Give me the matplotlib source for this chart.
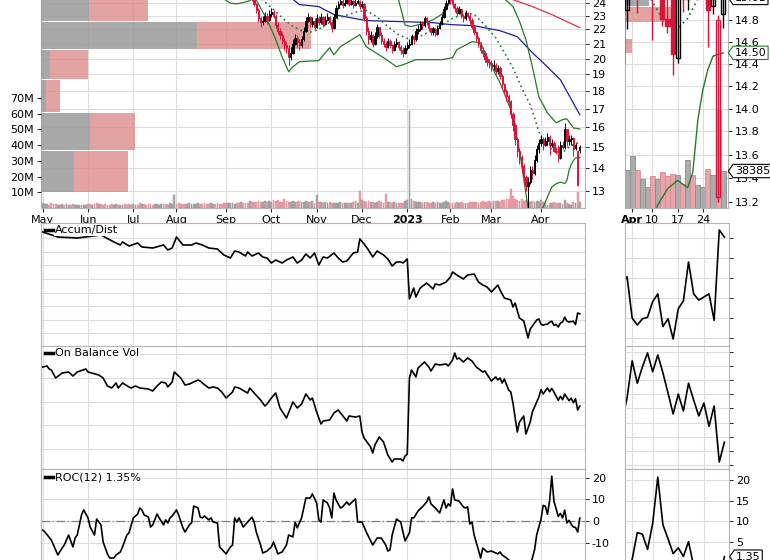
import matplotlib
matplotlib.use("Agg")
import matplotlib.pyplot as plt
from matplotlib.lines import Line2D
from matplotlib.path import Path
from matplotlib.ticker import NullLocator

# ---------------------------------------------------------------- data
# x = trading-day index, 0 = 2 May 2022 ... 249 = 28 Apr 2023
month_days = [0, 21, 42, 62, 85, 106, 127, 148, 169, 189, 208, 231]
month_labels = ["May", "Jun", "Jul", "Aug", "Sep", "Oct", "Nov", "Dec",
                "2023", "Feb", "Mar", "Apr"]
zoom_days = [231, 235, 240, 245]
zoom_labels = ["Apr", "10", "17", "24"]

# daily candles from day 96 on (earlier ones sit above the visible price range)
first_candle = 96
closes = [
    24.6, 24.3, 23.9, 23.4, 22.8, 22.5, 22.6, 23.0, 22.7, 23.1,
    23.3, 23.0, 22.3, 21.9, 21.6, 21.2, 20.9, 20.7, 20.1, 20.4,
    21.0, 21.4, 21.1, 20.9, 21.3, 21.9, 22.6, 22.9, 22.4, 22.6,
    22.2, 22.8, 22.5, 22.9, 22.4, 22.7, 22.9, 22.5, 22.1, 22.9,
    23.6, 23.9, 24.1, 23.8, 24.0, 24.2, 23.9, 24.1, 23.8, 24.0,
    24.1, 23.7, 23.9, 22.8, 21.9, 21.3, 21.6, 21.0, 21.5, 22.2,
    21.6, 21.2, 21.0, 20.8, 21.2, 20.9, 20.6, 21.0, 21.1, 20.8,
    20.6, 20.4, 20.7, 20.9, 21.0, 21.5, 21.3, 21.9, 22.0, 22.4,
    22.3, 22.8, 22.6, 22.1, 21.8, 22.0, 21.7, 22.1, 22.4, 22.9,
    23.5, 24.0, 24.4, 24.2, 23.9, 23.6, 23.2, 23.5, 23.0, 22.8,
    23.2, 23.0, 22.7, 22.2, 21.8, 21.4, 21.0, 20.6, 20.4, 20.0,
    19.8, 19.7, 19.5, 19.6, 19.2, 19.4, 18.9, 18.4, 18.0, 17.7,
    17.4, 16.7, 16.1, 15.4, 14.8, 14.5, 14.1, 13.6, 13.2, 13.4,
    13.9, 13.8, 14.4, 14.9, 15.2, 15.4, 15.1, 15.3, 15.5, 15.1,
    15.2, 14.81, 14.75, 14.49, 15.1, 15.0, 15.9, 15.3, 15.4, 15.45,
    14.9, 15.1, 14.8, 15.01,
]
highs = [
    24.9, 24.7, 24.4, 24.0, 23.6, 23.0, 23.0, 23.3, 23.2, 23.4,
    23.6, 23.4, 23.1, 22.5, 22.1, 21.8, 21.4, 21.1, 20.9, 20.8,
    21.3, 21.7, 21.6, 21.3, 21.5, 22.2, 22.9, 23.2, 23.0, 22.9,
    22.8, 23.1, 23.0, 23.2, 23.0, 23.0, 23.2, 23.0, 22.6, 23.1,
    23.8, 24.1, 24.4, 24.3, 24.3, 24.5, 24.3, 24.4, 24.2, 24.3,
    24.4, 24.2, 24.1, 24.0, 23.0, 22.2, 21.9, 21.7, 21.8, 22.4,
    22.2, 21.8, 21.4, 21.2, 21.4, 21.3, 21.0, 21.2, 21.4, 21.2,
    20.9, 20.8, 20.9, 21.1, 21.3, 21.7, 21.6, 22.1, 22.3, 22.6,
    22.6, 23.0, 22.9, 22.6, 22.2, 22.2, 22.1, 22.3, 22.6, 23.1,
    23.7, 24.2, 24.6, 24.5, 24.3, 24.0, 23.7, 23.7, 23.5, 23.1,
    23.4, 23.3, 23.1, 22.8, 22.3, 21.9, 21.5, 21.1, 20.8, 20.5,
    20.2, 20.0, 19.9, 19.9, 19.7, 19.6, 19.5, 19.0, 18.5, 18.1,
    17.8, 17.5, 16.8, 16.2, 15.5, 14.9, 14.6, 14.2, 13.7, 13.6,
    14.1, 14.1, 14.6, 15.1, 15.4, 15.6, 15.5, 15.5, 15.7, 15.6,
    15.4, 15.3, 15.0, 15.1, 15.3, 15.3, 16.2, 15.9, 15.6, 15.6,
    15.5, 15.2, 14.85, 15.1,
]
lows = [
    24.4, 24.1, 23.7, 23.2, 22.5, 22.2, 22.3, 22.5, 22.4, 22.6,
    22.9, 22.8, 22.1, 21.7, 21.3, 21.0, 20.6, 20.4, 19.6, 19.9,
    20.3, 20.9, 20.8, 20.6, 20.8, 21.2, 21.8, 22.5, 22.2, 22.2,
    22.0, 22.1, 22.3, 22.4, 22.2, 22.3, 22.6, 22.3, 21.8, 22.0,
    22.8, 23.5, 23.8, 23.6, 23.7, 23.9, 23.7, 23.8, 23.6, 23.7,
    23.9, 23.5, 23.6, 22.6, 21.6, 21.0, 21.1, 20.8, 20.9, 21.4,
    21.4, 21.0, 20.8, 20.5, 20.7, 20.7, 20.4, 20.5, 20.8, 20.6,
    20.3, 20.1, 20.3, 20.6, 20.7, 20.9, 21.0, 21.2, 21.7, 21.9,
    22.0, 22.2, 22.3, 21.9, 21.6, 21.6, 21.5, 21.6, 22.0, 22.3,
    22.8, 23.4, 23.9, 23.9, 23.6, 23.3, 23.0, 23.1, 22.8, 22.5,
    22.7, 22.8, 22.4, 22.0, 21.6, 21.2, 20.8, 20.4, 20.1, 19.8,
    19.5, 19.4, 19.2, 19.3, 19.0, 19.0, 18.7, 18.2, 17.8, 17.4,
    17.1, 16.5, 15.8, 15.1, 14.5, 14.2, 13.8, 13.3, 13.0, 12.3,
    13.3, 13.5, 13.7, 14.3, 14.72, 15.05, 14.87, 15.05, 15.1, 14.62,
    15.0, 14.75, 14.68, 14.3, 14.41, 14.88, 14.9, 15.05, 15.1, 15.1,
    14.55, 14.86, 13.2, 14.73,
]
gap_opens = {96: 24.8, 239: 15.0, 240: 14.45, 247: 14.93, 248: 13.24, 249: 14.86}

# daily volume, millions of shares
volume_m = [
    3.5, 2.5, 2.8, 2.2, 3.0, 2.6, 2.4, 2.0, 2.2, 2.5,
    2.1, 2.3, 1.9, 2.0, 2.4, 2.2, 1.8, 2.0, 1.7, 2.2,
    2.0, 2.5, 2.3, 2.1, 2.6, 3.5, 2.8, 2.4, 2.2, 2.5,
    2.0, 2.1, 2.3, 2.2, 2.6, 2.0, 1.9, 2.1, 2.4, 2.2,
    2.3, 2.0, 2.5, 2.2, 2.0, 3.0, 2.4, 2.6, 2.2, 2.5,
    2.3, 2.1, 2.8, 2.4, 2.2, 2.6, 2.3, 2.5, 2.1, 3.0,
    2.6, 8.0, 2.4, 3.0, 2.6, 2.8, 2.5, 2.7, 3.0, 2.4,
    2.6, 2.8, 3.1, 2.5, 2.4, 2.9, 2.6, 2.8, 3.4, 2.7,
    2.6, 3.0, 2.8, 2.5, 3.2, 2.9, 3.1, 3.5, 3.0, 2.8,
    3.3, 3.1, 3.6, 3.0, 3.2, 3.5, 4.5, 3.8, 4.0, 3.6,
    4.2, 3.8, 4.0, 4.4, 3.9, 4.6, 4.0, 5.2, 4.4, 4.8,
    4.0, 3.6, 5.5, 4.2, 3.8, 4.0, 4.6, 3.6, 3.9, 4.2,
    3.7, 4.0, 4.5, 4.0, 3.8, 4.2, 3.5, 8.0, 3.6, 3.9,
    3.4, 3.7, 3.2, 3.8, 3.5, 3.1, 3.4, 3.0, 3.6, 3.2,
    3.5, 3.1, 3.4, 3.3, 3.8, 4.2, 3.5, 11.0, 4.8, 4.5,
    4.0, 4.4, 3.6, 4.0, 3.5, 3.8, 4.2, 3.6, 3.4, 9.0,
    4.0, 3.6, 3.5, 3.8, 3.4, 3.2, 3.0, 3.5, 4.5, 5.0,
    62.0, 5.5, 4.5, 4.0, 3.6, 3.8, 3.5, 4.0, 3.6, 3.4,
    3.5, 3.8, 3.2, 3.6, 3.0, 3.4, 3.8, 4.5, 3.6, 3.2,
    3.4, 3.0, 3.6, 3.2, 3.8, 3.4, 3.2, 3.5, 3.8, 4.0,
    3.6, 4.0, 3.4, 3.8, 4.2, 3.9, 3.6, 4.2, 4.0, 4.5,
    4.2, 4.5, 3.8, 4.8, 5.0, 5.5, 6.0, 12.0, 7.5, 6.0,
    5.0, 4.5, 5.5, 4.2, 5.0, 4.6, 4.0, 4.4, 3.8, 4.2,
    3.9, 5.4, 3.9, 3.0, 2.2, 3.3, 3.0, 3.7, 3.3, 3.5,
    3.4, 2.5, 5.0, 3.4, 2.4, 2.2, 4.0, 3.4, 10.2, 3.838548,
]
# up/down days before the candles start
early_vol_dir = ("uuudddduuu" "duudduuudu" "uddudduddd" "ddduuduudd"
                 "dduudduddd" "dduuuudddu" "uuddddduuu" "uuuddddduu"
                 "dddddduuuu" "ddudddu")

# volume-by-price bands (price range, up / down volume in M)
vbp_low = [22.63, 20.66, 18.73, 16.82, 14.86, 12.96]
vbp_high = [24.6, 22.56, 20.59, 18.67, 16.77, 14.81]
vbp_up = [40, 130, 7.5, 4, 41, 27.5]
vbp_down = [49, 95, 32, 12, 37, 45]
rvbp_low = [14.93, 14.78, 14.50]
rvbp_high = [15.1, 14.92, 14.63]
rvbp_up = [24, 0, 0]
rvbp_down = [0, 51, 7]

# overlays read at sparse days
bb_up_days = [80, 84, 87, 90, 93, 96, 99, 105, 130, 150, 162, 165, 168, 171, 176,
              181, 185, 188, 190, 195, 205, 212, 216, 218, 221, 224, 227, 230,
              234, 238, 241, 243, 246, 249]
bb_up = [24.6, 24.3, 23.95, 23.9, 24.0, 24.15, 24.5, 25.5, 25.5, 26.0, 25.0, 24.2,
         22.3, 22.2, 22.4, 22.7, 23.1, 23.8, 24.5, 25.0, 25.0, 24.6, 24.0, 23.69,
         22.6, 21.27, 19.48, 17.66, 16.76, 16.23, 16.4, 16.44, 15.96, 15.91]
bb_mid_days = [100, 106, 112, 116, 120, 124, 128, 134, 140, 146, 150, 155, 160, 165,
               170, 175, 180, 185, 190, 196, 200, 205, 210, 214, 218, 222, 226, 228,
               230, 232, 235, 237, 240, 242, 244, 246, 249]
bb_mid = [24.5, 23.6, 22.7, 22.2, 21.9, 21.8, 22.0, 22.6, 23.0, 23.3, 23.4, 22.9,
          22.2, 21.6, 21.3, 21.5, 21.9, 22.3, 22.8, 23.2, 23.1, 22.3, 21.4, 20.4,
          19.4, 18.2, 17.2, 16.5, 15.76, 15.3, 14.97, 14.82, 14.72, 14.82, 15.0,
          15.12, 15.25]
bb_low_days = [96, 99, 104, 108, 111, 114, 116, 119, 128, 133, 135, 138, 147, 150,
               158, 164, 167, 173, 185, 190, 192, 199, 203, 206, 212, 217, 221, 225,
               228, 232, 236, 238, 240, 242, 243, 244, 245, 246, 247, 249]
bb_low = [24.6, 24.2, 22.7, 21.3, 20.1, 19.16, 19.48, 19.8, 19.87, 20.72, 20.25,
          20.79, 21.62, 20.79, 20.06, 19.48, 19.6, 19.93, 19.93, 20.06, 20.59, 21.13,
          21.06, 20.06, 18.49, 16.93, 14.86, 12.3, 11.8, 12.34, 13.17, 13.31, 13.38,
          13.32, 13.45, 13.9, 14.17, 14.35, 14.47, 14.50]
ma50_days = [115, 119, 128, 135, 150, 166, 181, 189, 200, 212, 220, 227, 232, 240, 249]
ma50 = [24.4, 23.84, 23.69, 23.08, 22.63, 22.56, 22.48, 22.34, 22.26, 21.9, 21.48,
        20.39, 19.73, 18.67, 16.66]
ma200_days = [210, 218, 227, 236, 249]
ma200 = [24.8, 24.23, 23.69, 23.08, 22.12]

adl_days = [0, 7, 16, 27, 33, 36, 37, 40, 44, 46, 51, 56, 58, 60, 62, 65, 69, 71, 74,
            77, 81, 84, 87, 89, 91, 94, 95, 97, 100, 102, 104, 106, 108, 111, 113,
            116, 118, 120, 122, 124, 126, 128, 130, 132, 135, 137, 139, 141, 144,
            146, 147, 149, 151, 153, 155, 158, 160, 162, 164, 166, 167, 169, 170,
            172, 173, 175, 178, 181, 182, 184, 187, 189, 190, 192, 195, 197, 200,
            202, 204, 206, 208, 211, 212, 214, 217, 218, 219, 221, 223, 225, 226,
            227, 229, 230, 231, 232, 233, 234, 235, 236, 237, 238, 239, 240, 241,
            242, 243, 244, 245, 246, 247, 248, 249]
adl = [115, 110, 109, 112, 105, 102, 105, 101, 104, 100, 99, 102, 97, 99, 110, 102,
       102, 104, 102, 99, 98, 92, 89, 96, 95, 91, 95, 91, 94, 90, 89, 84, 87, 84, 87,
       90, 84, 87, 93, 89, 94, 82, 90, 89, 94, 89, 85, 86, 94, 95, 108, 103, 97, 90,
       96, 92, 88, 81, 85, 85, 84, 88, 48, 59, 50, 59, 64, 58, 63, 62, 65, 70, 75, 72,
       68, 72, 73, 65, 62, 60, 55, 62, 57, 49, 47, 40, 44, 29, 26, 9, 18, 21, 27,
       28.0, 22.7, 21.8, 22.6, 22.8, 24.8, 25.8, 21.6, 22.6, 20.0, 23.9, 24.9, 29.9,
       25.8, 25.0, 25.4, 25.8, 22.4, 34.0, 33.1]

obv_days = [0, 2, 3, 4, 6, 9, 12, 14, 16, 20, 21, 26, 28, 30, 32, 34, 35, 37, 40, 41,
            43, 45, 49, 51, 53, 55, 57, 58, 60, 61, 64, 66, 68, 72, 73, 74, 77, 79,
            81, 83, 85, 88, 89, 91, 95, 96, 98, 101, 103, 104, 106, 108, 110, 113,
            116, 118, 120, 122, 124, 125, 127, 129, 130, 133, 135, 137, 141, 142,
            145, 147, 148, 149, 152, 153, 154, 156, 158, 160, 162, 163, 166, 167,
            168, 169, 170, 171, 173, 174, 177, 179, 180, 182, 184, 187, 188, 190,
            191, 192, 193, 195, 197, 199, 201, 204, 205, 208, 210, 211, 212, 213,
            214, 216, 217, 218, 220, 221, 223, 224, 226, 227, 229, 230, 231, 232,
            233, 234, 235, 236, 237, 238, 239, 240, 241, 242, 243, 244, 245, 246,
            247, 248, 249]
obv = [102, 103, 100, 99, 91, 96, 97, 93, 97, 100, 97, 94, 91, 83, 81, 86, 81, 86,
       82, 81, 83, 81, 80, 78, 83, 87, 86, 82, 87, 97, 91, 84, 85, 89, 88, 86, 81,
       82, 81, 77, 71, 77, 82, 81, 76, 81, 76, 69, 63, 65, 71, 76, 61, 51, 67, 61,
       65, 75, 69, 71, 57, 45, 48, 49, 56, 59, 48, 53, 52, 53, 37, 31, 22, 16, 24,
       32, 27, 14, 7, 10, 10, 8, 13, 15, 91, 99, 92, 101, 107, 102, 98, 105, 104,
       105, 103, 109, 116, 110, 111, 107, 111, 108, 102, 97, 98, 88, 92, 89, 91, 86,
       90, 79, 77, 66, 37, 47, 53, 35, 47, 57, 67, 71.9, 79.4, 74.9, 78.2, 81.0,
       77.2, 80.6, 77.0, 72.9, 68.7, 72.7, 69.3, 74.9, 71.5, 68.3, 70.9, 66.2, 70.3,
       59.0, 63.0]

roc_days = [0, 1, 4, 7, 9, 10, 12, 14, 15, 16, 18, 19, 21, 22, 24, 25, 27, 28, 30,
            31, 33, 34, 36, 37, 39, 40, 42, 44, 45, 46, 47, 49, 50, 51, 53, 54, 56,
            57, 58, 59, 60, 62, 63, 65, 66, 68, 69, 70, 72, 73, 74, 75, 77, 78, 79,
            81, 82, 85, 87, 88, 89, 90, 91, 93, 95, 97, 98, 99, 101, 102, 104, 106,
            107, 109, 111, 113, 114, 116, 117, 118, 120, 122, 124, 125, 127, 128,
            129, 130, 132, 133, 134, 135, 136, 138, 139, 141, 142, 145, 146, 148,
            150, 153, 155, 157, 159, 160, 161, 162, 164, 166, 167, 168, 170, 171,
            172, 174, 176, 178, 179, 180, 182, 184, 186, 187, 188, 189, 190, 191,
            193, 195, 196, 197, 198, 199, 200, 202, 203, 204, 206, 208, 211, 212,
            213, 215, 217, 219, 221, 223, 225, 227, 228, 229, 230, 231, 232, 233,
            234, 235, 236, 237, 238, 239, 240, 241, 242, 243, 244, 245, 246, 247,
            248, 249]
roc = [-4.2, -5.1, -8.8, -15.7, -12.5, -11.1, -6.5, -12.0, -7.9, -6.5, 2.8, 5.1, 1.4,
       -2.8, -6.5, 0.9, -1.8, -9.7, -15.2, -17.1, -17.1, -15.7, -14.3, -12.0, -6.5,
       -5.5, 1.4, 3.2, 6.0, 5.1, 2.8, 1.8, -2.8, -1.8, 3.2, 1.4, -1.8, 0.5, -0.9,
       1.4, 2.3, 5.1, 2.8, -3.2, -5.1, -1.8, -0.9, 6.9, 6.0, 1.8, 1.4, 2.3, 0.5,
       1.4, -0.5, -0.9, -12.0, -15.2, -12.0, -11.1, 1.4, -0.5, 1.4, -2.8, -0.5, 1.8,
       -0.5, -5.1, -11.1, -14.8, -13.9, -12.0, -9.7, -15.2, -14.3, -11.1, -6.5,
       -7.4, -0.5, -3.2, 1.4, 10.6, 10.6, 12.5, 8.3, 0.5, -0.5, 9.7, 8.3, 6.0, 1.4,
       12.9, 9.7, 6.0, 6.5, 8.8, 7.4, 10.2, -0.5, -0.5, -5.1, -11.1, -7.9, -7.9,
       -11.1, -13.9, -13.4, -6.5, 0.9, -0.5, -5.1, -9.2, -5.5, 1.4, 1.4, 4.6, 6.5,
       8.8, 11.1, 7.9, 6.0, 3.7, 9.7, 6.0, 7.9, 6.9, 14.8, 9.7, 9.2, 6.5, 6.0, 6.5,
       -1.4, -0.5, -6.5, -13.4, -17.1, -12.5, -14.3, -13.9, -15.2, -14.3, -15.7,
       -17.1, -18.9, -23.0, -28.0, -30.0, -26.0, -17.1, -13.4, -6.5, -2.8, 0.7, 7.2,
       6.8, 3.1, 9.4, 20.7, 9.1, 5.7, 2.1, 3.5, 1.4, 5.0, -0.9, 0.3, -1.5, -2.8,
       -3.0, -5.1, 1.35]

# ---------------------------------------------------------------- style
W, H = 770, 560
GRID = "#dddddd"
SPINE = "#b4b4b4"
RED = "#d8143a"
VOL_UP, VOL_DN = "#acacac", "#e9a3aa"
VBP_UP, VBP_DN = "#9a9a9a", "#dc8c8c"
GREEN = "#267a26"
FS = 8

plt.rcParams["font.family"] = ["DejaVu Sans"]
fig = plt.figure(figsize=(W / 100, H / 100), dpi=100)


def panel(l, t, r, b, face="none"):
    ax = fig.add_axes([l / W, 1 - b / H, (r - l) / W, (b - t) / H], facecolor=face)
    for s in ax.spines.values():
        s.set_color(SPINE)
    ax.tick_params(colors="black", labelsize=FS, length=3, width=0.6, pad=2)
    return ax


def bare(ax):
    ax.set_axis_off()
    return ax


def grid_panel(l, t, r, b, xlim, ylim, yticks, days, labels=None, log=False):
    ax = panel(l, t, r, b, face="white")
    if log:
        ax.set_yscale("log")
    ax.set_xlim(*xlim)
    ax.set_ylim(*ylim)
    ax.set_yticks(yticks)
    ax.yaxis.set_minor_locator(NullLocator())
    ax.set_xticks(days)
    ax.xaxis.set_minor_locator(NullLocator())
    ax.grid(True, color=GRID, lw=0.8)
    ax.set_axisbelow(True)
    ax.yaxis.tick_right()
    if labels is None:
        ax.set_xticklabels([])
        ax.tick_params(axis="x", length=0)
    else:
        ax.set_xticklabels(labels)
    return ax


def candle_parts(k):
    d = first_candle + k
    c = closes[k]
    o = gap_opens.get(d, closes[k - 1] if k else c)
    prev = closes[k - 1] if k else o
    col = "black" if c >= prev else RED
    return d, o, highs[k], lows[k], c, col


def draw_candles(ax, width, lw):
    for k in range(len(closes)):
        d, o, h, l, c, col = candle_parts(k)
        ax.vlines(d, l, h, color=col, lw=lw, zorder=3)
        body = max(abs(c - o), 0.01)
        face = "none" if c > o else col
        ax.bar(d, body, bottom=min(o, c), width=width, facecolor=face,
               edgecolor=col, lw=lw, zorder=4)


def vol_colors():
    cols = []
    for d in range(len(volume_m)):
        if d < len(early_vol_dir):
            up = early_vol_dir[d] == "u"
        else:
            k = d - first_candle
            up = closes[k] >= closes[k - 1]
        cols.append(VOL_UP if up else VOL_DN)
    return cols


def draw_overlays(ax, lw):
    ax.plot(ma200_days, ma200, color="#e0304c", lw=lw, zorder=2)
    ax.plot(ma50_days, ma50, color="#1c1c9c", lw=lw, zorder=2)
    ax.plot(bb_up_days, bb_up, color=GREEN, lw=lw, zorder=2)
    ax.plot(bb_low_days, bb_low, color=GREEN, lw=lw, zorder=2)
    ax.plot(bb_mid_days, bb_mid, color=GREEN, lw=lw + 0.3, ls=(0, (1, 2)), zorder=2)


def legend_tag(ax, text, dy=-7):
    ax.annotate(text, xy=(0, 1), xycoords="axes fraction", xytext=(14, dy),
                textcoords="offset pixels", va="center", ha="left", fontsize=FS,
                zorder=10,
                bbox=dict(boxstyle="square,pad=0.1", fc="white", ec="none"))
    ax.add_line(Line2D([4 / 544, 12 / 544], [1 + dy / ax.bbox.height] * 2,
                       transform=ax.transAxes, color="black", lw=2.5, zorder=11))


def tag_shape(x0, y0, width, height, mutation_size):
    # price tag: rectangle with a point on its left side
    pad = 0.15 * mutation_size
    x0, y0 = x0 - pad, y0 - pad
    width, height = width + 2 * pad, height + 2 * pad
    tip = 0.35 * height
    return Path([(x0, y0), (x0 + width, y0), (x0 + width, y0 + height),
                 (x0, y0 + height), (x0 - tip, y0 + height / 2), (x0, y0)],
                closed=True)


def value_box(ax, y, text, edge):
    ax.annotate(text, xy=(1, y), xycoords=("axes fraction", "data"),
                xytext=(7, 0), textcoords="offset pixels", va="center",
                fontsize=FS, color="black", annotation_clip=False, zorder=12,
                bbox=dict(boxstyle=tag_shape, fc="white", ec=edge, lw=0.8))


MAIN_X = (-0.8, 251.4)
ZOOM_X = (229.6, 249.9)
price_ticks = list(range(13, 25))
zoom_ticks = [13.2, 13.4, 13.6, 13.8, 14.0, 14.2, 14.4, 14.6, 14.8]
colors = vol_colors()
edges = ["#8c8c8c" if c == VOL_UP else "#d98a92" for c in colors]

# ---------------------------------------------------------------- main price panel
g = grid_panel(41, -1, 585, 208, MAIN_X, (12.30, 24.28), price_ticks, month_days,
               month_labels, log=True)
g.set_yticklabels([str(t) for t in price_ticks])
for t_ in g.get_xticklabels():
    if t_.get_text() == "2023":
        t_.set_fontweight("bold")

vb = bare(panel(41, -1, 585, 208))
vb.set_yscale("log")
vb.set_ylim(12.30, 24.28)
vb.set_xlim(0, 453)
vbp_h = [h - l for h, l in zip(vbp_high, vbp_low)]
vb.barh(vbp_low, vbp_up, height=vbp_h, align="edge", color=VBP_UP, alpha=0.85, lw=0)
vb.barh(vbp_low, vbp_down, left=vbp_up, height=vbp_h, align="edge", color=VBP_DN,
        alpha=0.8, lw=0)

vol = panel(41, -1, 585, 208)
vol.set_xlim(*MAIN_X)
vol.set_ylim(0, 133)
vol.bar(range(len(volume_m)), volume_m, width=0.85, color=colors, edgecolor=edges,
        lw=0.3)
vol.set_yticks([10, 20, 30, 40, 50, 60, 70])
vol.set_yticklabels([f"{v}M" for v in range(10, 80, 10)])
vol.set_xticks([])
for s in vol.spines.values():
    s.set_visible(False)

pr = bare(panel(41, -1, 585, 208))
pr.set_yscale("log")
pr.set_ylim(12.30, 24.28)
pr.set_xlim(*MAIN_X)
draw_overlays(pr, 0.9)
draw_candles(pr, 0.6, 0.7)

# ---------------------------------------------------------------- zoom price panel
rg = grid_panel(625, -1, 727.7, 208, ZOOM_X, (13.15, 15.0), zoom_ticks, zoom_days,
                zoom_labels, log=True)
rg.set_yticklabels([f"{t:.1f}" for t in zoom_ticks])
for t_ in rg.get_xticklabels():
    if t_.get_text() == "Apr":
        t_.set_fontweight("bold")

rvb = bare(panel(625, -1, 727.7, 208))
rvb.set_yscale("log")
rvb.set_ylim(13.15, 15.0)
rvb.set_xlim(0, 102)
rh = [h - l for h, l in zip(rvbp_high, rvbp_low)]
rvb.barh(rvbp_low, rvbp_up, height=rh, align="edge", color=VBP_UP, alpha=0.85, lw=0)
rvb.barh(rvbp_low, rvbp_down, left=rvbp_up, height=rh, align="edge", color=VBP_DN,
         alpha=0.8, lw=0)

rvol = bare(panel(625, -1, 727.7, 208))
rvol.set_xlim(*ZOOM_X)
rvol.set_ylim(0, 21.7)
rvol.bar(range(len(volume_m)), volume_m, width=1.0, color=colors, edgecolor=edges,
         lw=0.6)

rpr = bare(panel(625, -1, 727.7, 208))
rpr.set_yscale("log")
rpr.set_ylim(13.15, 15.0)
rpr.set_xlim(*ZOOM_X)
draw_overlays(rpr, 1.0)
draw_candles(rpr, 0.8, 1.0)

value_box(rpr, bb_low[-1], f"{bb_low[-1]:.2f}", GREEN)
value_box(rvol, volume_m[-1], f"{round(volume_m[-1] * 1e6)}", "black")
value_box(rpr, closes[-1], f"{closes[-1]:.2f}", "black")

# ---------------------------------------------------------------- Accum/Dist
a = grid_panel(41, 223, 585, 347, MAIN_X, (0, 124), [13.6 * k for k in range(1, 9)],
               month_days)
a.set_yticklabels([])
a.tick_params(axis="y", length=0)
a.plot(adl_days, adl, color="black", lw=1.2)
legend_tag(a, "Accum/Dist")

ra = grid_panel(625, 223, 729, 347, ZOOM_X, (18.98, 34.9),
                [20.1 + 2.57 * k for k in range(6)], zoom_days)
ra.set_yticklabels([])
ra.plot(adl_days, adl, color="black", lw=1.2)

# ---------------------------------------------------------------- On Balance Volume
o_ = grid_panel(41, 346, 585, 469, MAIN_X, (0, 123), [20 + 23.75 * k for k in range(5)],
                month_days)
o_.set_yticklabels([])
o_.tick_params(axis="y", length=0)
o_.plot(obv_days, obv, color="black", lw=1.2)
legend_tag(o_, "On Balance Vol")

ro = grid_panel(625, 346, 729, 469, ZOOM_X, (57.6, 82.4),
                [81.2 - 2.85 * k for k in range(9)], zoom_days)
ro.set_yticklabels([])
ro.plot(obv_days, obv, color="black", lw=1.2)

# ---------------------------------------------------------------- ROC
r_ = grid_panel(41, 469, 585, 600, MAIN_X, (-36.5, 24.0), [-20, -10, 0, 10, 20],
                month_days)
r_.set_yticklabels(["-20", "-10", "0", "10", "20"])
r_.axhline(0, color="#808080", lw=0.9, ls=(0, (7, 2, 1, 2)))
r_.plot(roc_days, roc, color="black", lw=1.2)
legend_tag(r_, f"ROC(12) {roc[-1]:.2f}%", dy=-8)

rr = grid_panel(625, 469, 729, 600, ZOOM_X, (-9.2, 22.67), [5, 10, 15, 20], zoom_days)
rr.set_yticklabels(["5", "10", "15", "20"])
rr.plot(roc_days, roc, color="black", lw=1.2)
value_box(rr, roc[-1], f"{roc[-1]:.2f}", "black")

fig.savefig("out.png", dpi=100, facecolor="white")
